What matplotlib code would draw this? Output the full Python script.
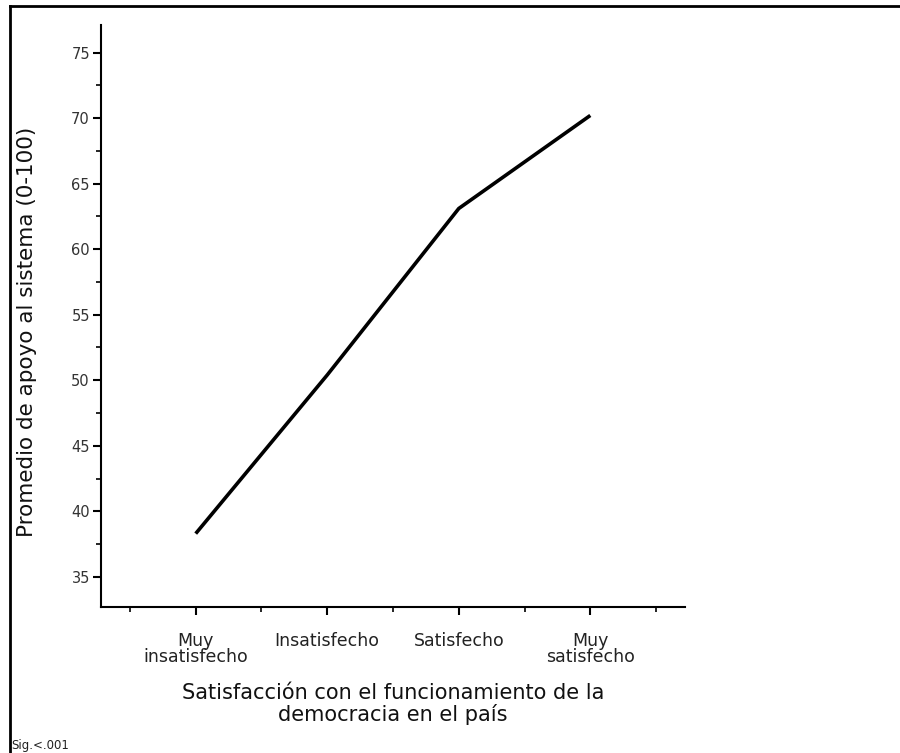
import matplotlib.pyplot as plt
from matplotlib.ticker import MultipleLocator
from matplotlib.lines import Line2D

# datos
categorias = ["Muy\ninsatisfecho", "Insatisfecho", "Satisfecho", "Muy\nsatisfecho"]
apoyo = [38.3, 50.4, 63.1, 70.2]

plt.rcParams['font.family'] = ['DejaVu Sans']

fig = plt.figure(figsize=(9, 7.53), dpi=100)
W, H = 900, 753
ax = fig.add_axes([101/W, 1 - 607/H, (685-101)/W, (607-25)/H])

xs = list(range(1, len(categorias) + 1))
ax.plot(xs, apoyo, color='black', linewidth=2.6, solid_capstyle='butt')

ax.set_xlim(0.28, 4.72)
ax.set_ylim(32.7, 77.1)
ax.set_xticks(xs)
ax.set_xticklabels(categorias, fontsize=12.5, color='#222222', linespacing=0.85)
ax.set_xticks([0.5, 1.5, 2.5, 3.5, 4.5], minor=True)
ax.yaxis.set_major_locator(MultipleLocator(5))
ax.yaxis.set_minor_locator(MultipleLocator(2.5))
ax.tick_params(axis='y', which='major', length=6, width=1.5, labelsize=10.5, labelcolor='#333333', pad=2)
ax.tick_params(axis='y', which='minor', length=3.5, width=1.2)
ax.tick_params(axis='x', which='major', length=6, width=1.5, pad=12)
ax.tick_params(axis='x', which='minor', length=3.5, width=1.2)

for s in ['top', 'right']:
    ax.spines[s].set_visible(False)
for s in ['left', 'bottom']:
    ax.spines[s].set_linewidth(1.5)

ax.set_ylabel("Promedio de apoyo al sistema (0-100)", fontsize=15.5, color='#111111', va='center')
ax.yaxis.set_label_coords(-0.127, 0.473)
ax.set_xlabel("Satisfacción con el funcionamiento de la\ndemocracia en el país", fontsize=15,
              color='#111111', linespacing=1.05, va='center')
ax.xaxis.set_label_coords(0.5, -0.167)

# marco exterior (solo izquierda y arriba)
fig.add_artist(Line2D([9.5/W, 9.5/W], [0, 1 - 6/H], color='black', linewidth=2, transform=fig.transFigure))
fig.add_artist(Line2D([9.5/W, 1], [1 - 6/H, 1 - 6/H], color='black', linewidth=2, transform=fig.transFigure))

fig.text(11/W, 1 - 745/H, "Sig.<.001", fontsize=8.5, va='center', ha='left', color='#222222')

fig.savefig("out.png", dpi=100, facecolor='white')
